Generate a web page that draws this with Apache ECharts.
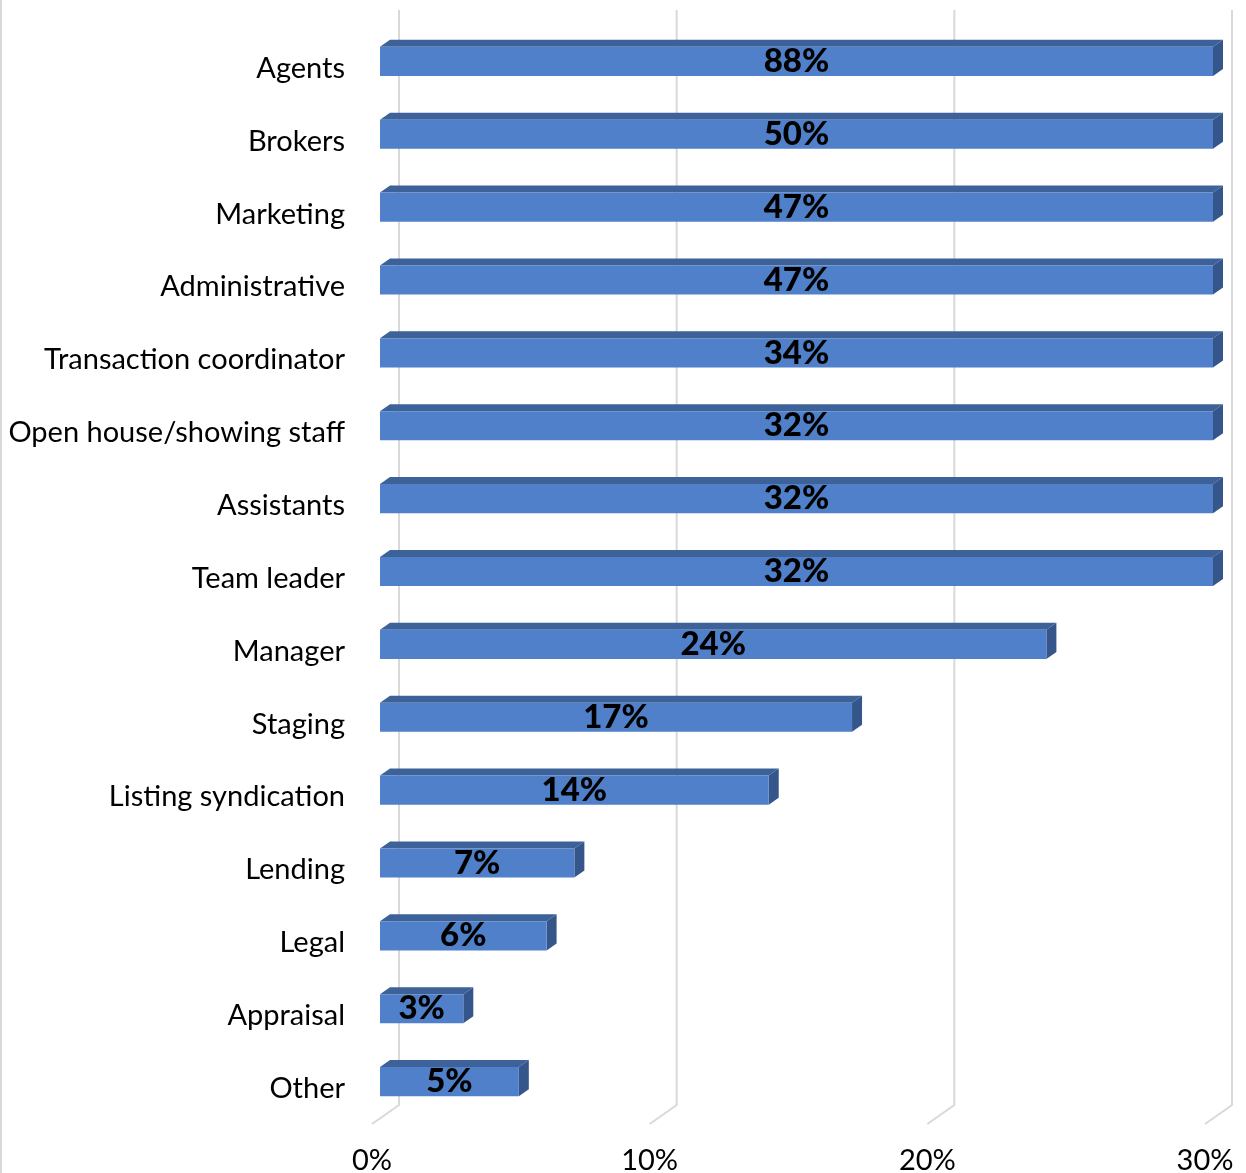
<!DOCTYPE html>
<html>
<head>
<meta charset="utf-8">
<script src="https://cdn.jsdelivr.net/npm/echarts@6/dist/echarts.min.js"></script>
<style>
  html, body { margin: 0; padding: 0; background: #fff; }
  #chart {
    width: 1246px;
    height: 1173px;
    box-shadow: inset 2px 0 0 #d9d9d9;
  }
</style>
</head>
<body>
<div id="chart"></div>
<script>
const categories = [
  'Agents',
  'Brokers',
  'Marketing',
  'Administrative',
  'Transaction coordinator',
  'Open house/showing staff',
  'Assistants',
  'Team leader',
  'Manager',
  'Staging',
  'Listing syndication',
  'Lending',
  'Legal',
  'Appraisal',
  'Other',
]

const shares = [88, 50, 47, 47, 34, 32, 32, 32, 24, 17, 14, 7, 6, 3, 5]

const ticks = [0, 10, 20, 30]

const font = 'Lato, "Open Sans", sans-serif'

// 3d look: depth of a bar and of the floor
const barDepth = [10, 7]
const floorDepth = [27, 19]

function renderBar(params, api) {
  const cs = params.coordSys
  const cat = api.value(1)
  const start = api.coord([0, cat])
  const end = api.coord([api.value(0), cat])
  const h = api.size([0, 1])[1] * 0.4
  const x0 = start[0]
  // bars over the axis max are cut at the wall
  const x1 = Math.min(end[0], cs.x + cs.width)
  const y0 = end[1] - h / 2
  const y1 = end[1] + h / 2
  const dx = barDepth[0]
  const dy = barDepth[1]

  return {
    type: 'group',
    children: [
      {
        type: 'polygon',
        shape: { points: [[x0, y0], [x0 + dx, y0 - dy], [x1 + dx, y0 - dy], [x1, y0]] },
        style: { fill: '#3d6299' },
      },
      {
        type: 'polygon',
        shape: { points: [[x1, y0], [x1 + dx, y0 - dy], [x1 + dx, y1 - dy], [x1, y1]] },
        style: { fill: '#34568a' },
      },
      {
        type: 'rect',
        shape: { x: x0, y: y0, width: x1 - x0, height: h },
        style: { fill: '#4f80c9' },
        textContent: {
          style: {
            text: api.value(0) + '%',
            fontFamily: font,
            fontWeight: 900,
            fontSize: 33,
            fill: '#000',
          },
        },
        textConfig: { position: 'inside' },
      },
    ],
  }
}

function renderGridLine(params, api) {
  const cs = params.coordSys
  const x = api.coord([api.value(0), categories[0]])[0]
  const yBack = cs.y + cs.height - 13
  return {
    type: 'polyline',
    shape: {
      points: [
        [x + 19, cs.y - 15],
        [x + 19, yBack],
        [x + 19 - floorDepth[0], yBack + floorDepth[1]],
      ],
    },
    style: { stroke: '#d9d9d9', lineWidth: 2, fill: null },
  }
}

const chart = echarts.init(document.getElementById('chart'))

chart.setOption({
  animation: false,
  grid: {
    left: 380,
    width: 833,
    top: 25,
    height: 1093,
    outerBoundsMode: 'none',
    containLabel: false,
  },
  xAxis: {
    type: 'value',
    min: 0,
    max: 30,
    interval: 10,
    splitLine: { show: false },
    axisLine: { show: false },
    axisTick: { show: false },
    axisLabel: {
      formatter: '{value}%',
      fontFamily: font,
      fontSize: 29,
      color: '#000',
      margin: 28,
      padding: [0, 16, 0, 0],
    },
  },
  yAxis: {
    type: 'category',
    inverse: true,
    data: categories,
    axisLine: { show: false },
    axisTick: { show: false },
    axisLabel: {
      formatter: '{a|{value}}',
      margin: 35,
      rich: {
        a: {
          fontFamily: font,
          fontSize: 29,
          color: '#000',
          padding: [14, 0, 0, 0],
        },
      },
    },
  },
  series: [
    {
      type: 'custom',
      name: 'grid',
      z: 1,
      clip: false,
      renderItem: renderGridLine,
      data: ticks.map((t) => [t, categories[0]]),
      encode: { x: 0, y: 1 },
      silent: true,
    },
    {
      type: 'custom',
      name: 'Share',
      z: 2,
      clip: false,
      renderItem: renderBar,
      data: shares.map((v, i) => [v, categories[i]]),
      encode: { x: 0, y: 1 },
    },
  ],
})
</script>
</body>
</html>
